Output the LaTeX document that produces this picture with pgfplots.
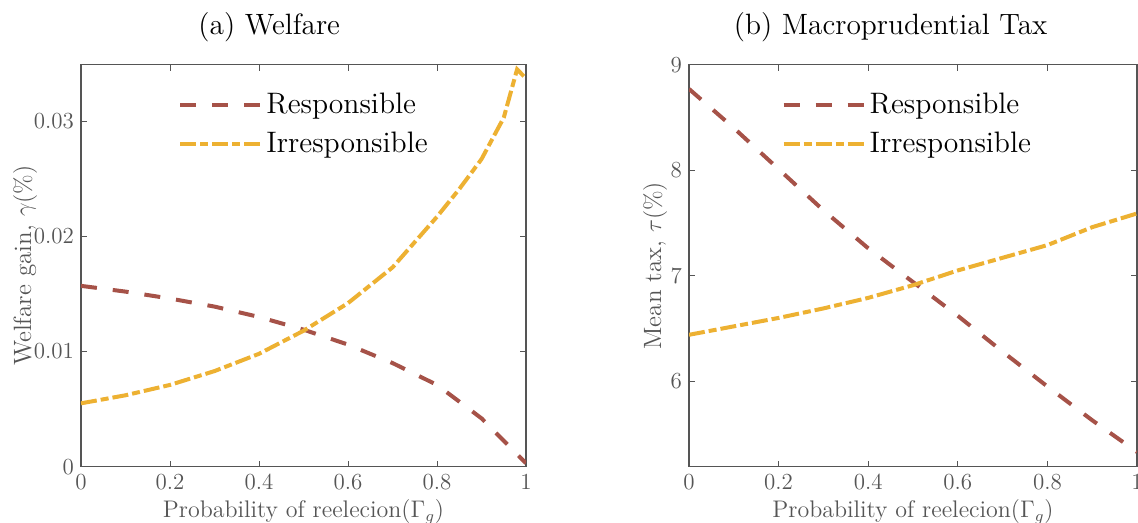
\documentclass[border=0pt]{standalone}
\usepackage{pgfplots}
\pgfplotsset{compat=1.18}
\definecolor{resp}{RGB}{166,82,72}
\definecolor{irr}{RGB}{237,177,50}
\definecolor{axc}{RGB}{85,85,85}
\pgfplotsset{
  mystyle/.style={
    scale only axis,
    height=201pt,
    xmin=0, xmax=1,
    xtick={0,0.2,0.4,0.6,0.8,1},
    xticklabels={0,0.2,0.4,0.6,0.8,1},
    scaled y ticks=false,
    scaled x ticks=false,
    tick align=inside,
    major tick length=3pt,
    axis line style={axc, line width=0.6pt},
    every tick/.style={axc, line width=0.5pt},
    tick label style={text=axc, font=\fontsize{11.5}{13}\selectfont},
    xlabel style={text=axc, font=\fontsize{12}{14}\selectfont, yshift=2pt},
    ylabel style={text=axc, font=\fontsize{12.5}{14}\selectfont, anchor=center},
    every axis title shift=0pt,
    title style={font=\fontsize{14.7}{17}\selectfont, anchor=base, yshift=15pt},
    xlabel={Probability of reelecion($\Gamma_g$)},
    legend cell align=left,
    legend style={draw=none, fill=none, font=\fontsize{14.8}{17}\selectfont, row sep=3.5pt, inner sep=0pt},
    legend image code/.code={\draw[#1] (0pt,0pt) -- (40pt,0pt);},
  },
  respline/.style={resp, line width=2pt, dash pattern=on 8pt off 8pt},
  irrline/.style={irr, line width=2pt, dash pattern=on 8pt off 2pt on 4pt off 2pt},
}
\begin{document}
\begin{tikzpicture}
\begin{axis}[mystyle,
  at={(40.5pt,28.15pt)}, anchor=south west,
  width=222.5pt,
  ymin=0, ymax=0.0349,
  ytick={0,0.01,0.02,0.03},
  yticklabels={0,0.01,0.02,0.03},
  ylabel={Welfare gain, $\gamma(\%)$},
  ylabel style={at={([xshift=-28pt]axis description cs:0,0.5)}},
  title={(a) Welfare},
  title style={at={(0.423,1)}},
  legend style={at={(0.218,0.94)}, anchor=north west},
]
\addplot[respline] coordinates {(0,0.0157) (0.1,0.0152) (0.2,0.0146) (0.3,0.0139) (0.4,0.0130) (0.5,0.0119) (0.6,0.0106) (0.7,0.0090) (0.8,0.0071) (0.9,0.0042) (1,0.0003)};
\addlegendentry{Responsible}
\addplot[irrline] coordinates {(0,0.0055) (0.1,0.0062) (0.2,0.0071) (0.3,0.0083) (0.4,0.0098) (0.5,0.0118) (0.6,0.0142) (0.7,0.0173) (0.8,0.0217) (0.85,0.0241) (0.9,0.0267) (0.95,0.0303) (0.98,0.0345) (1,0.0337)};
\addlegendentry{Irresponsible}
\end{axis}
\begin{axis}[mystyle,
  at={(344.5pt,28.15pt)}, anchor=south west,
  width=224pt,
  ymin=5.19, ymax=9,
  ytick={6,7,8,9},
  yticklabels={6,7,8,9},
  ylabel={Mean tax, $\tau(\%)$},
  ylabel style={at={([xshift=-17pt]axis description cs:0,0.5)}},
  title={(b) Macroprudential Tax},
  title style={at={(0.45,1)}},
  legend style={at={(0.206,0.94)}, anchor=north west},
]
\addplot[respline] coordinates {(0,8.77) (0.1,8.40) (0.2,8.01) (0.3,7.62) (0.4,7.26) (0.5,6.94) (0.6,6.62) (0.7,6.28) (0.8,5.95) (0.9,5.63) (1,5.33)};
\addlegendentry{Responsible}
\addplot[irrline] coordinates {(0,6.44) (0.1,6.52) (0.2,6.60) (0.3,6.69) (0.4,6.79) (0.5,6.91) (0.6,7.05) (0.7,7.17) (0.8,7.29) (0.9,7.46) (1,7.59)};
\addlegendentry{Irresponsible}
\end{axis}
\pgfresetboundingbox
\path (0,0) rectangle (569pt,261.5pt);
\end{tikzpicture}
\end{document}
